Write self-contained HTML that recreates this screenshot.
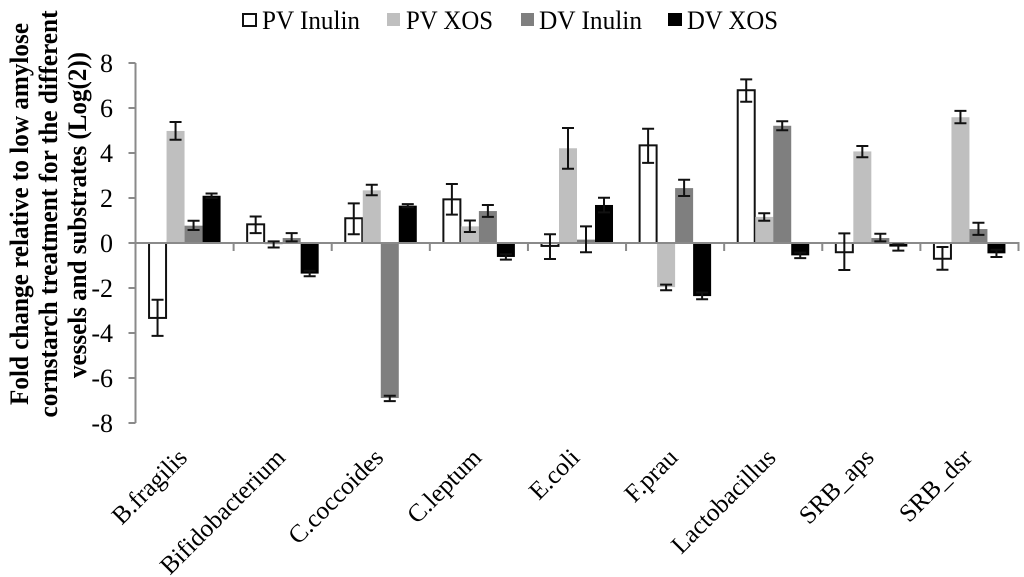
<!DOCTYPE html>
<html>
<head>
<meta charset="utf-8">
<title>Fold change chart</title>
<style>
html,body{margin:0;padding:0;background:#fff;}
body{width:1024px;height:577px;overflow:hidden;}
svg{display:block;font-family:"Liberation Serif",serif;filter:blur(0.35px);}
</style>
</head>
<body>
<svg id="chart" width="1024" height="577" viewBox="0 0 1024 577" xmlns="http://www.w3.org/2000/svg">
  <rect x="0" y="0" width="1024" height="577" fill="#fff"/>
  <g font-weight="bold" font-size="26" fill="#000" text-anchor="middle">
    <text transform="translate(28,214) rotate(-90)" textLength="382" lengthAdjust="spacingAndGlyphs">Fold change relative to low amylose</text>
    <text transform="translate(57,214) rotate(-90)" textLength="407" lengthAdjust="spacingAndGlyphs">cornstarch treatment for the different</text>
    <text transform="translate(86,215) rotate(-90)" textLength="326" lengthAdjust="spacingAndGlyphs">vessels and substrates (Log(2))</text>
  </g>
  <g font-size="26" fill="#000">
    <rect x="243" y="14" width="13" height="12" fill="#fff" stroke="#111" stroke-width="2"/>
    <text x="262" y="29" textLength="98" lengthAdjust="spacingAndGlyphs">PV Inulin</text>
    <rect x="387" y="13" width="13" height="13" fill="#bfbfbf"/>
    <text x="406" y="29" textLength="87" lengthAdjust="spacingAndGlyphs">PV XOS</text>
    <rect x="521" y="13" width="13" height="13" fill="#7f7f7f"/>
    <text x="539" y="29" textLength="103" lengthAdjust="spacingAndGlyphs">DV Inulin</text>
    <rect x="668" y="13" width="14" height="13" fill="#000"/>
    <text x="687" y="29" textLength="91" lengthAdjust="spacingAndGlyphs">DV XOS</text>
  </g>
  <g id="bars"></g>
  <g id="axes"></g>
  <g id="errors"></g>
  <g id="labels"></g>
</svg>
<script>
const categories = ["B.fragilis","Bifidobacterium","C.coccoides","C.leptum","E.coli","F.prau","Lactobacillus","SRB_aps","SRB_dsr"];
const yTickLabels = [8,6,4,2,0,-2,-4,-6,-8];

const pvInulin     = [-3.33, 0.83, 1.10, 1.94, -0.13, 4.34, 6.79, -0.41, -0.70];
const pvInulinHigh = [-2.52, 1.18, 1.76, 2.62, 0.39, 5.08, 7.27, 0.43, -0.18];
const pvInulinLow  = [-4.13, 0.44, 0.39, 1.26, -0.71, 3.56, 6.28, -1.20, -1.19];

const pvXos     = [4.98, -0.06, 2.34, 0.74, 4.21, -1.96, 1.16, 4.07, 5.59];
const pvXosHigh = [5.38, 0.07, 2.59, 1.00, 5.11, -1.85, 1.32, 4.31, 5.87];
const pvXosLow  = [4.59, -0.20, 2.12, 0.49, 3.30, -2.10, 0.99, 3.81, 5.32];

const dvInulin     = [0.77, 0.22, -6.89, 1.42, 0.15, 2.44, 5.21, 0.22, 0.62];
const dvInulinHigh = [0.99, 0.44, -6.79, 1.69, 0.74, 2.81, 5.41, 0.41, 0.90];
const dvInulinLow  = [0.58, 0.07, -7.03, 1.16, -0.41, 2.09, 5.01, 0.07, 0.36];

const dvXos     = [2.10, -1.36, 1.66, -0.62, 1.69, -2.36, -0.55, -0.16, -0.46];
const dvXosHigh = [2.20, -1.24, 1.73, -0.50, 2.01, -2.20, -0.43, -0.06, -0.30];
const dvXosLow  = [2.00, -1.48, 1.59, -0.74, 1.36, -2.50, -0.67, -0.34, -0.62];

const NS = "http://www.w3.org/2000/svg";
const plotLeft = 135.5, plotRight = 1018.5, plotTop = 63, plotBottom = 423;
const axisColor = "#8a8a8a";
const yMax = 8, yMin = -8;

function yScale(v) {
  return plotTop + (yMax - v) / (yMax - yMin) * (plotBottom - plotTop);
}
function bandWidth() {
  return (plotRight - plotLeft) / categories.length;
}
function xBand(i) {
  return plotLeft + i * bandWidth();
}
function make(tag, attrs, parent) {
  const el = document.createElementNS(NS, tag);
  for (const k in attrs) el.setAttribute(k, attrs[k]);
  parent.appendChild(el);
  return el;
}

const barsGroup = document.getElementById("bars");
const errorsGroup = document.getElementById("errors");
const axesGroup = document.getElementById("axes");
const labelsGroup = document.getElementById("labels");

const seriesList = [
  { key: "pv-inulin", values: pvInulin, high: pvInulinHigh, low: pvInulinLow, fill: "#fff", stroke: "#111" },
  { key: "pv-xos", values: pvXos, high: pvXosHigh, low: pvXosLow, fill: "#bfbfbf", stroke: "none" },
  { key: "dv-inulin", values: dvInulin, high: dvInulinHigh, low: dvInulinLow, fill: "#7f7f7f", stroke: "none" },
  { key: "dv-xos", values: dvXos, high: dvXosHigh, low: dvXosLow, fill: "#000", stroke: "none" }
];

const barW = bandWidth() * 0.1835;
const groupOffset = (bandWidth() - barW * 4) / 2;
const zeroY = yScale(0);

seriesList.forEach(function (s, si) {
  s.values.forEach(function (v, i) {
    const x = xBand(i) + groupOffset + si * barW;
    const top = Math.min(yScale(v), zeroY);
    const h = Math.abs(yScale(v) - zeroY);
    let bar;
    if (s.stroke === "none") {
      bar = make("rect", { x: x, y: top, width: barW, height: h, fill: s.fill }, barsGroup);
    } else {
      bar = make("rect", { x: x + 0.5, y: top, width: barW - 1, height: h, fill: s.fill, stroke: s.stroke, "stroke-width": 2 }, barsGroup);
    }
    
    

    const cx = x + barW / 2;
    const yHi = yScale(s.high[i]);
    const yLo = yScale(s.low[i]);
    const d = "M" + cx + " " + yHi + "V" + yLo + "M" + (cx - 6) + " " + yHi + "H" + (cx + 6) + "M" + (cx - 6) + " " + yLo + "H" + (cx + 6);
    const err = make("path", { d: d, fill: "none", stroke: "#111", "stroke-width": 2 }, errorsGroup);
    
    
  });
});

const yAxisLine = make("line", { x1: plotLeft, x2: plotLeft, y1: plotTop, y2: plotBottom, stroke: axisColor, "stroke-width": 2 }, axesGroup);



const xAxisLine = make("line", { x1: plotLeft - 7, x2: plotRight + 1, y1: zeroY, y2: zeroY, stroke: axisColor, "stroke-width": 2 }, axesGroup);



yTickLabels.forEach(function (t) {
  const y = yScale(t);
  const tick = make("line", { x1: plotLeft - 7, x2: plotLeft, y1: y, y2: y, stroke: axisColor, "stroke-width": 2 }, axesGroup);
  
  
  const label = make("text", { x: 113, y: y + 9, "text-anchor": "end", "font-size": 26, fill: "#000" }, labelsGroup);
  label.textContent = String(t);
  
  
});

categories.forEach(function (c, i) {
  const tx = xBand(i + 1);
  const tick = make("line", { x1: tx, x2: tx, y1: zeroY, y2: zeroY + 8, stroke: axisColor, "stroke-width": 2 }, axesGroup);
  
  
  const ax = xBand(i) + bandWidth() / 2 + 4;
  const label = make("text", { transform: "translate(" + ax + ",459) rotate(-45)", "text-anchor": "end", "font-size": 25.2, fill: "#000" }, labelsGroup);
  label.textContent = c;
  
  
});
</script>
</body>
</html>
